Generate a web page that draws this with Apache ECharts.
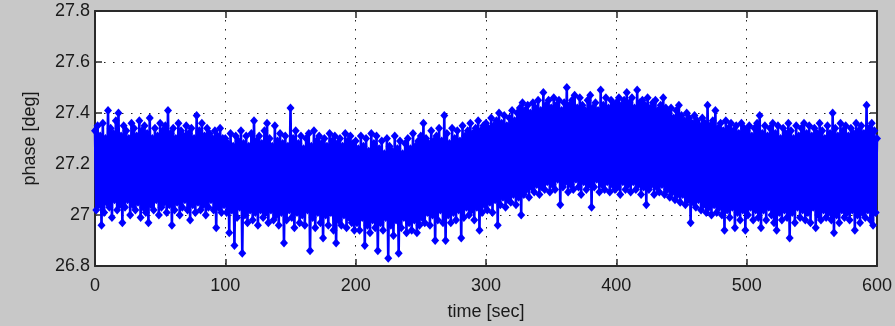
<!DOCTYPE html>
<html>
<head>
<meta charset="utf-8">
<script src="https://cdn.jsdelivr.net/npm/echarts@6/dist/echarts.min.js"></script>
<style>
  html, body { margin: 0; padding: 0; background: #c8c8c8; }
  #chart { width: 895px; height: 326px; }
</style>
</head>
<body>
<div id="chart"></div>
<script>
// Phase samples, one per second, in 100-second blocks [deg]
const phase000 = [27.33,27.02,27.35,27.04,27.31,26.96,27.36,27.01,27.30,27.05,27.41,27.03,27.34,26.99,27.32,27.06,27.37,27.02,27.40,27.04,27.31,26.97,27.35,27.03,27.33,27.06,27.30,27.00,27.36,27.04,27.34,27.02,27.31,27.05,27.37,26.99,27.33,27.03,27.35,27.01,27.32,26.97,27.38,27.04,27.30,27.02,27.34,27.06,27.31,27.00,27.36,27.03,27.33,27.05,27.35,27.01,27.41,27.04,27.32,26.96,27.34,27.02,27.30,27.05,27.36,27.00,27.33,27.03,27.31,27.06,27.35,27.02,27.32,26.98,27.34,27.04,27.30,27.01,27.39,27.05,27.33,27.02,27.36,27.04,27.31,27.00,27.34,27.03,27.32,27.06,27.30,27.02,27.33,26.95,27.31,27.03,27.34,27.01,27.30,27.04];
const phase100 = [27.30,27.01,27.28,26.93,27.32,27.02,27.27,26.88,27.31,26.99,27.29,27.03,27.33,26.85,27.28,27.00,27.31,26.97,27.27,27.02,27.32,26.98,27.37,27.01,27.29,26.96,27.31,27.02,27.28,26.99,27.33,27.01,27.36,26.97,27.30,27.02,27.27,26.98,27.35,27.00,27.29,26.96,27.32,27.01,27.28,26.89,27.31,26.98,27.27,27.02,27.42,26.99,27.30,26.95,27.33,27.01,27.28,26.97,27.31,27.00,27.26,26.96,27.30,27.02,27.32,26.86,27.27,26.99,27.33,26.95,27.29,27.01,27.31,26.97,27.28,26.91,27.30,27.00,27.27,26.96,27.32,27.01,27.29,26.94,27.31,26.89,27.28,26.98,27.30,26.96,27.27,27.00,27.32,26.95,27.29,26.99,27.31,26.97,27.28,26.94];
const phase200 = [27.29,26.97,27.26,26.94,27.31,26.99,27.27,26.88,27.30,26.96,27.25,26.93,27.32,26.98,27.28,26.95,27.31,26.86,27.26,26.97,27.29,26.94,27.24,26.99,27.30,26.83,27.27,26.96,27.25,26.92,27.31,26.98,27.26,26.85,27.29,26.95,27.24,26.99,27.28,26.93,27.30,26.97,27.26,26.94,27.32,26.98,27.27,26.93,27.29,26.96,27.31,26.99,27.36,26.97,27.30,27.01,27.28,26.96,27.33,27.00,27.29,26.90,27.31,26.98,27.34,27.02,27.29,26.97,27.39,26.90,27.32,27.00,27.28,26.97,27.34,27.01,27.30,26.98,27.33,27.02,27.29,26.91,27.35,26.99,27.31,27.03,27.33,27.00,27.36,27.02,27.32,26.98,27.34,27.03,27.37,26.94,27.33,27.01,27.35,27.04];
const phase300 = [27.36,27.02,27.34,27.05,27.38,27.01,27.35,27.06,27.37,26.96,27.40,27.04,27.36,27.07,27.39,27.03,27.35,27.06,27.38,27.05,27.41,27.08,27.37,27.04,27.40,27.07,27.42,27.00,27.44,27.08,27.41,27.10,27.43,27.07,27.40,27.11,27.44,27.09,27.42,27.12,27.45,27.08,27.41,27.11,27.48,27.10,27.43,27.13,27.45,27.09,27.42,27.12,27.46,27.10,27.43,27.14,27.45,27.04,27.41,27.11,27.44,27.13,27.50,27.09,27.43,27.12,27.45,27.10,27.47,27.14,27.42,27.11,27.46,27.08,27.43,27.13,27.41,27.10,27.45,27.12,27.47,27.03,27.42,27.11,27.44,27.14,27.41,27.09,27.49,27.12,27.43,27.10,27.46,27.13,27.42,27.09,27.45,27.12,27.43,27.10];
const phase400 = [27.44,27.11,27.46,27.08,27.43,27.13,27.45,27.10,27.48,27.12,27.44,27.09,27.46,27.13,27.42,27.10,27.49,27.12,27.44,27.08,27.45,27.11,27.43,27.04,27.46,27.10,27.42,27.12,27.44,27.08,27.45,27.11,27.41,27.09,27.43,27.12,27.46,27.08,27.42,27.10,27.40,27.07,27.42,27.09,27.38,27.06,27.41,27.08,27.43,27.05,27.39,27.08,27.37,27.04,27.40,27.06,27.38,26.97,27.36,27.05,27.39,27.03,27.37,27.06,27.35,27.02,27.38,27.04,27.36,27.01,27.43,27.03,27.35,27.00,27.37,27.04,27.41,27.01,27.34,27.03,27.36,27.00,27.33,26.94,27.37,27.02,27.34,26.99,27.36,27.03,27.33,26.95,27.35,27.01,27.32,26.98,27.36,27.02,27.34,26.94];
const phase500 = [27.33,27.00,27.35,27.03,27.31,26.98,27.34,27.02,27.36,26.99,27.39,26.95,27.32,27.02,27.35,26.98,27.31,27.03,27.34,27.00,27.36,26.97,27.32,26.94,27.35,27.01,27.30,26.98,27.34,27.02,27.32,26.99,27.36,26.91,27.33,27.01,27.30,26.97,27.35,27.03,27.31,26.99,27.34,27.02,27.36,26.98,27.32,27.01,27.35,26.97,27.31,27.03,27.34,26.95,27.32,27.00,27.36,26.98,27.33,27.02,27.30,26.99,27.35,27.01,27.32,26.98,27.40,26.93,27.34,27.00,27.31,26.97,27.36,27.02,27.33,26.99,27.35,27.01,27.31,26.98,27.34,27.02,27.32,26.94,27.36,27.00,27.33,26.97,27.35,27.01,27.32,26.99,27.43,27.02,27.34,26.98,27.36,26.96,27.33,27.01,27.30];

const blockStarts = [0, 100, 200, 300, 400, 500];
const xTicks = [0, 100, 200, 300, 400, 500, 600];
const yTicks = [26.8, 27, 27.2, 27.4, 27.6, 27.8];

const blocks = [phase000, phase100, phase200, phase300, phase400, phase500];
const samples = [];
blocks.forEach((blk, b) => {
  blk.forEach((v, i) => samples.push([blockStarts[b] + i, v]));
});

const FONT = 'Liberation Sans, Arial, sans-serif';
const INK = '#1a1a1a';
const BLUE = '#0000ff';

const dotted = { show: true, lineStyle: { color: '#222', width: 1, type: [1.5, 7.5] } };
const frameLine = { show: true, onZero: false, lineStyle: { color: '#2a2a2a', width: 2 } };
const innerTick = { show: true, inside: true, length: 7, lineStyle: { color: '#2a2a2a', width: 1.5 } };

const chart = echarts.init(document.getElementById('chart'), null, { renderer: 'canvas' });
chart.setOption({
  animation: false,
  backgroundColor: '#c8c8c8',
  grid: { left: 95, right: 18, top: 11, bottom: 58, show: true, backgroundColor: '#ffffff', borderWidth: 0 },
  xAxis: [{
    type: 'value', min: xTicks[0], max: xTicks[xTicks.length - 1], interval: 100,
    name: 'time [sec]', nameLocation: 'middle', nameGap: 37,
    nameTextStyle: { fontFamily: FONT, fontSize: 18, color: INK },
    axisLine: frameLine, axisTick: innerTick,
    axisLabel: { fontFamily: FONT, fontSize: 18, color: INK, margin: 11 },
    splitLine: dotted
  }, {
    type: 'value', position: 'top', min: xTicks[0], max: xTicks[xTicks.length - 1], interval: 100,
    axisLine: frameLine, axisTick: innerTick, axisLabel: { show: false }, splitLine: { show: false }
  }],
  yAxis: [{
    type: 'value', min: yTicks[0], max: yTicks[yTicks.length - 1], interval: 0.2,
    name: 'phase [deg]', nameLocation: 'middle', nameGap: 56, nameRotate: 90,
    nameTextStyle: { fontFamily: FONT, fontSize: 18, color: INK },
    axisLine: frameLine, axisTick: innerTick,
    axisLabel: { fontFamily: FONT, fontSize: 18, color: INK, margin: 5 },
    splitLine: dotted
  }, {
    type: 'value', position: 'right', min: yTicks[0], max: yTicks[yTicks.length - 1], interval: 0.2,
    axisLine: frameLine, axisTick: innerTick, axisLabel: { show: false }, splitLine: { show: false }
  }],
  series: [{
    // connecting trace
    type: 'line',
    data: samples,
    showSymbol: false,
    lineStyle: { color: BLUE, width: 2.6 },
    emphasis: { disabled: true },
    z: 3
  }, {
    // diamond marker at every sample
    type: 'scatter',
    data: samples,
    symbol: 'diamond', symbolSize: [8, 9],
    itemStyle: { color: BLUE, opacity: 1 },
    emphasis: { disabled: true },
    z: 4
  }]
});
</script>
</body>
</html>
